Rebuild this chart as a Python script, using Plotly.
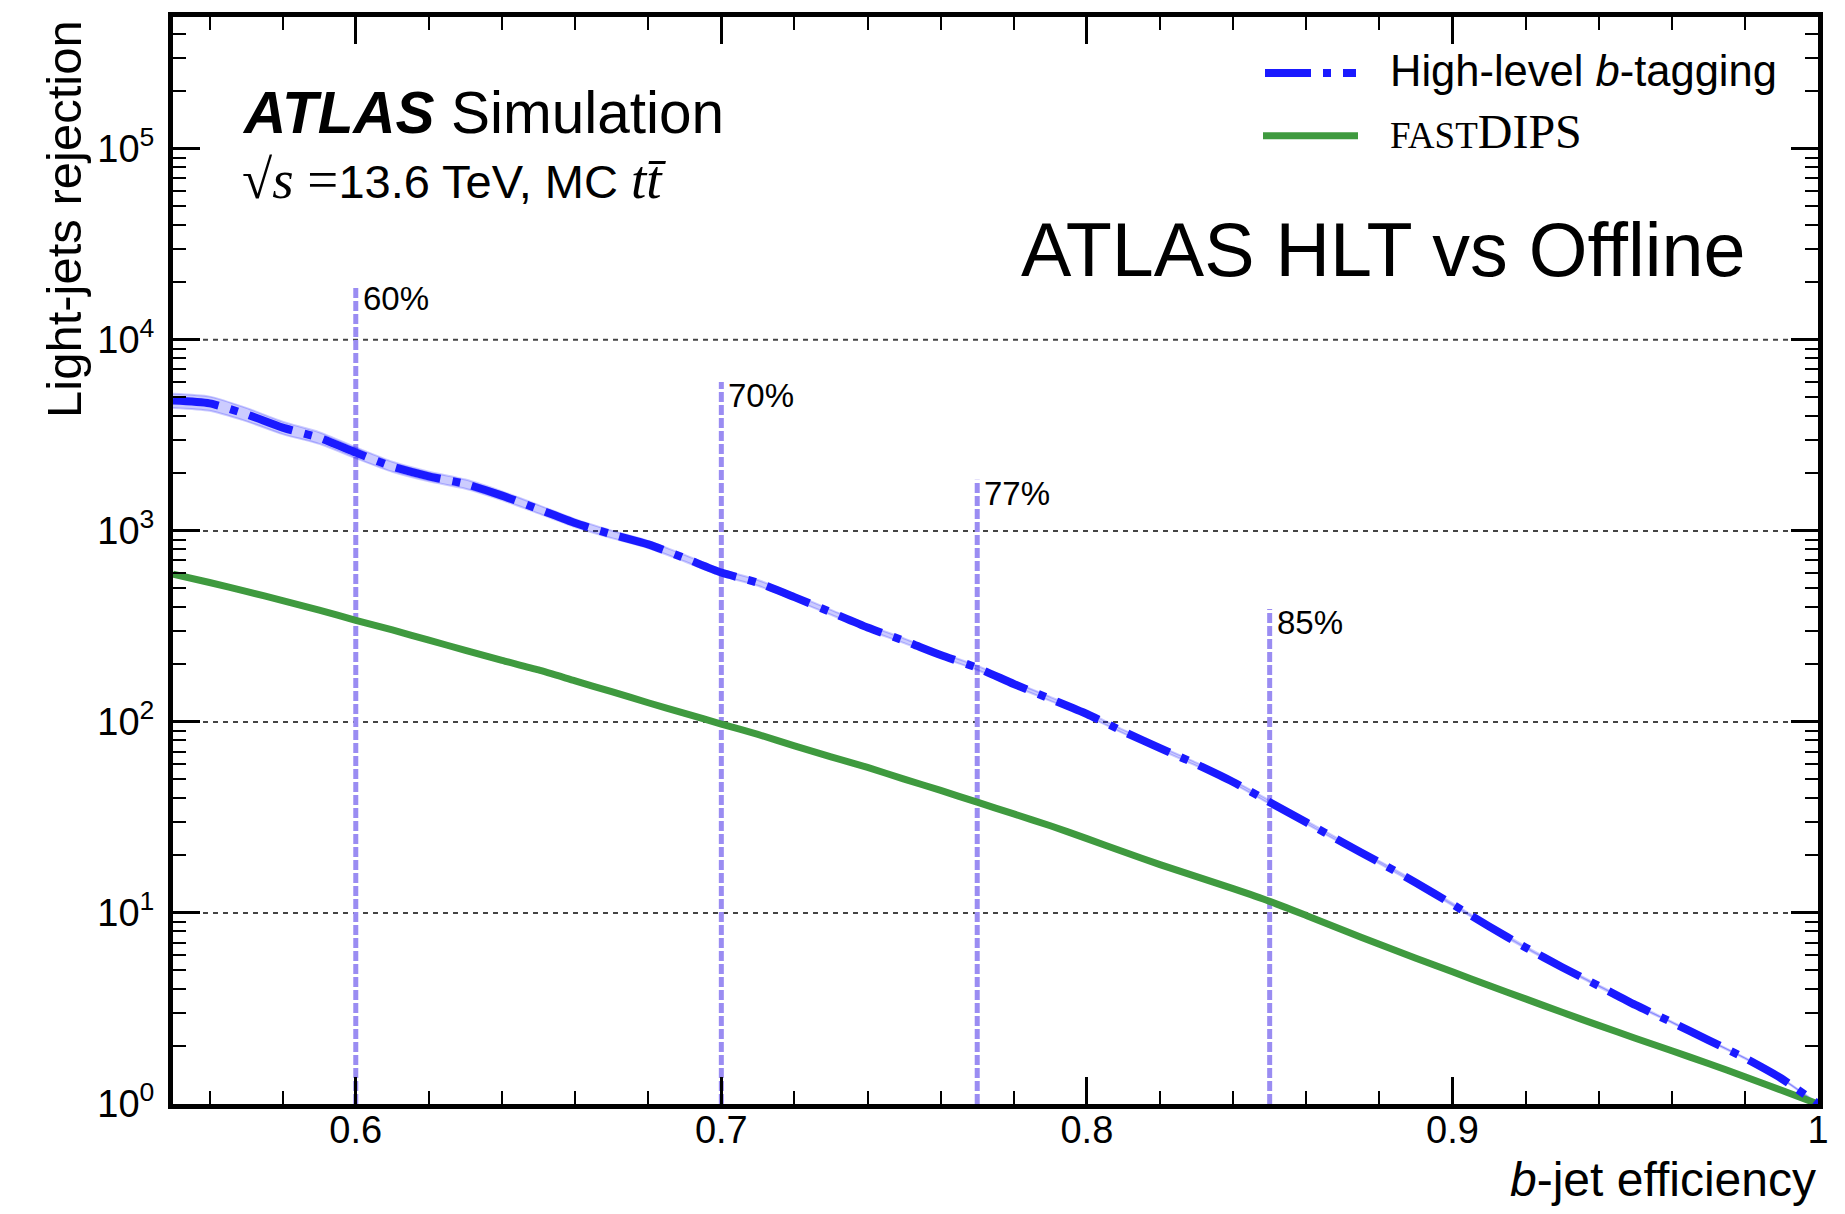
import math
import plotly.graph_objects as go

# ---------------------------------------------------------------- data
b_eff = [0.55, 0.56, 0.57, 0.58, 0.59, 0.60, 0.61, 0.62, 0.63, 0.64,
         0.65, 0.66, 0.67, 0.68, 0.69, 0.70, 0.71, 0.72, 0.73, 0.74,
         0.75, 0.76, 0.77, 0.78, 0.79, 0.80, 0.81, 0.82, 0.83, 0.84,
         0.85, 0.86, 0.87, 0.88, 0.89, 0.90, 0.91, 0.92, 0.93, 0.94,
         0.95, 0.96, 0.97, 0.98, 0.99, 1.00]

# offline high-level b-tagging light-jet rejection
hlt_rej = [4810, 4650, 4080, 3470, 3070, 2570, 2170, 1930, 1760, 1530,
           1300, 1100, 960, 850, 720, 605, 535, 450, 375, 312,
           266, 224, 192, 158, 132, 110, 89, 73, 60, 48.5,
           38, 29.8, 23.4, 18.4, 14.4, 11.1, 8.5, 6.6, 5.2, 4.15,
           3.3, 2.68, 2.16, 1.74, 1.36, 1.0]

# relative statistical uncertainty on the high-level tagger rejection
hlt_unc = [0.085, 0.085, 0.08, 0.075, 0.07, 0.065, 0.06, 0.058, 0.055, 0.052,
           0.05, 0.047, 0.045, 0.043, 0.04, 0.038, 0.035, 0.033, 0.03, 0.03,
           0.028, 0.027, 0.026, 0.025, 0.024, 0.023, 0.022, 0.021, 0.02, 0.02,
           0.019, 0.018, 0.017, 0.016, 0.015, 0.014, 0.013, 0.012, 0.011, 0.01,
           0.009, 0.008, 0.007, 0.006, 0.005, 0.005]

# trigger-level fastDIPS light-jet rejection
fastdips_rej = [593, 537, 482, 432, 385, 340, 303, 268, 237, 210,
                187, 164, 144, 126, 111, 97.5, 86, 75, 65.7, 57.8,
                50.2, 43.8, 38.0, 33.0, 28.6, 24.5, 20.9, 17.9, 15.5, 13.4,
                11.5, 9.7, 8.15, 6.85, 5.8, 4.92, 4.17, 3.55, 3.02, 2.58,
                2.21, 1.90, 1.63, 1.39, 1.18, 1.0]

# working points
wp_eff = [0.60, 0.70, 0.77, 0.85]
wp_top = [19300, 6020, 1850, 390]
wp_labels = ["60%", "70%", "77%", "85%"]

x_tickvals = [0.6, 0.7, 0.8, 0.9, 1.0]
x_ticktext = ["0.6", "0.7", "0.8", "0.9", "1"]
x_minor = [0.56, 0.58, 0.62, 0.64, 0.66, 0.68, 0.72, 0.74, 0.76, 0.78,
           0.82, 0.84, 0.86, 0.88, 0.92, 0.94, 0.96, 0.98]
y_tickvals = [1, 10, 100, 1000, 10000, 100000]
y_ticktext = ["10<sup>0</sup>", "10<sup>1</sup>", "10<sup>2</sup>",
              "10<sup>3</sup>", "10<sup>4</sup>", "10<sup>5</sup>"]
y_minor = [m * 10 ** d for d in range(6) for m in range(2, 10)]
grid_levels = [10, 100, 1000, 10000]

# ---------------------------------------------------------------- layout helpers
W, H = 1845, 1214
ML, MR, MT, MB = 173, 27, 15, 110
PW, PH = W - ML - MR, H - MT - MB


def px(xp):
    return (xp - ML) / PW


def py(yp):
    return (H - MB - yp) / PH


SANS = "Liberation Sans, Arial, Helvetica, sans-serif"
SERIF = "Liberation Serif, DejaVu Serif, serif"
BLUE = "#1a1aff"
BAND = "rgba(0,0,255,0.2)"
GREEN = "#3f9a3f"
WP_COLOR = "#9a8cf2"
HLT_DASH = "46px,12px,8px,12px"

fig = go.Figure()

# working-point markers
for e, top in zip(wp_eff, wp_top):
    fig.add_trace(go.Scatter(
        x=[e, e], y=[1, top], mode="lines",
        line=dict(color=WP_COLOR, width=5, dash="10px,3px"),
        showlegend=False, hoverinfo="skip"))

# uncertainty band of the high-level tagger
upper = [r * (1 + u) for r, u in zip(hlt_rej, hlt_unc)]
lower = [r * (1 - u) for r, u in zip(hlt_rej, hlt_unc)]
fig.add_trace(go.Scatter(x=b_eff, y=lower, mode="lines",
                         line=dict(color=BAND, width=2, shape="spline", smoothing=0.6),
                         showlegend=False, hoverinfo="skip"))
fig.add_trace(go.Scatter(x=b_eff, y=upper, mode="lines", fill="tonexty",
                         fillcolor=BAND,
                         line=dict(color=BAND, width=2, shape="spline", smoothing=0.6),
                         showlegend=False, hoverinfo="skip"))

fig.add_trace(go.Scatter(x=b_eff, y=fastdips_rej, mode="lines",
                         line=dict(color=GREEN, width=7, shape="spline", smoothing=0.6),
                         name="fastDIPS", showlegend=False))
fig.add_trace(go.Scatter(x=b_eff, y=hlt_rej, mode="lines",
                         line=dict(color=BLUE, width=8, dash=HLT_DASH,
                                   shape="spline", smoothing=0.6),
                         name="High-level b-tagging", showlegend=False))

# horizontal dashed reference lines at each decade
for lvl in grid_levels:
    fig.add_shape(type="line", xref="x domain", yref="y",
                  x0=0, x1=1, y0=lvl, y1=lvl, layer="below",
                  line=dict(color="#444444", width=2, dash="5px,5px"))

annotations = []

# working-point labels (log axis: annotation y given in log10 units)
for e, top, lab in zip(wp_eff, wp_top, wp_labels):
    annotations.append(dict(
        x=e, y=math.log10(top), xref="x", yref="y",
        text=lab, showarrow=False, xanchor="left", yanchor="top",
        xshift=5, yshift=7, font=dict(family=SANS, size=33, color="black")))

# ATLAS label
annotations.append(dict(
    x=px(240), y=py(111), xref="paper", yref="paper", xanchor="left",
    yanchor="middle", showarrow=False,
    text="<b><i>ATLAS</i></b> Simulation",
    font=dict(family=SANS, size=58.5, color="black")))
annotations.append(dict(
    x=px(240), y=py(178), xref="paper", yref="paper", xanchor="left",
    yanchor="middle", showarrow=False,
    text=("<span style=\"font-family:'Liberation Serif';font-size:55px\">√<i>s</i> =</span>"
          "13.6 TeV, MC "
          "<span style=\"font-family:'Liberation Serif';font-size:55px\"><i>tt̄</i></span>"),
    font=dict(family=SANS, size=47, color="black")))
annotations.append(dict(
    x=px(1748), y=py(248), xref="paper", yref="paper", xanchor="right",
    yanchor="middle", showarrow=False, text="ATLAS HLT vs Offline",
    font=dict(family=SANS, size=75.5, color="black")))

# legend
annotations.append(dict(
    x=px(1388), y=py(69), xref="paper", yref="paper", xanchor="left",
    yanchor="middle", showarrow=False, text="High-level <i>b</i>-tagging",
    font=dict(family=SANS, size=43.5, color="black")))
annotations.append(dict(
    x=px(1388), y=py(130), xref="paper", yref="paper", xanchor="left",
    yanchor="middle", showarrow=False,
    text="<span style=\"font-size:37px\">FAST</span>DIPS",
    font=dict(family=SERIF, size=48, color="black")))
fig.add_shape(type="line", xref="paper", yref="paper",
              x0=px(1265), x1=px(1356), y0=py(71), y1=py(71),
              line=dict(color=BLUE, width=8, dash=HLT_DASH))
fig.add_shape(type="line", xref="paper", yref="paper",
              x0=px(1263), x1=px(1358), y0=py(134), y1=py(134),
              line=dict(color=GREEN, width=7))

# axis titles
annotations.append(dict(
    x=1.0, y=py(1180), xref="paper", yref="paper", xanchor="right",
    yanchor="middle", showarrow=False, text="<i>b</i>-jet efficiency",
    font=dict(family=SANS, size=48, color="black")))
annotations.append(dict(
    x=px(64), y=py(16), xref="paper", yref="paper", xanchor="center",
    yanchor="top", showarrow=False, text="Light-jets rejection",
    textangle=-90, font=dict(family=SANS, size=49, color="black")))

fig.update_layout(
    width=W, height=H,
    margin=dict(l=ML, r=MR, t=MT, b=MB, pad=0),
    paper_bgcolor="white", plot_bgcolor="white",
    showlegend=False,
    annotations=annotations,
    font=dict(family=SANS, color="black"),
)

axis_common = dict(
    showline=True, linecolor="black", linewidth=5, mirror="allticks",
    ticks="inside", tickcolor="black", showgrid=False, zeroline=False,
    tickfont=dict(family=SANS, size=38, color="black"),
)

fig.update_xaxes(
    range=[0.55, 1.0], tickmode="array", tickvals=x_tickvals,
    ticktext=x_ticktext, ticklen=27, tickwidth=3,
    minor=dict(tickmode="array", tickvals=x_minor, ticks="inside",
               ticklen=13, tickwidth=2, tickcolor="black", showgrid=False),
    ticklabelstandoff=-12,
    **axis_common)
fig.update_yaxes(
    type="log", range=[0, 5.69], tickmode="array", tickvals=y_tickvals,
    ticktext=y_ticktext, ticklen=27, tickwidth=3,
    minor=dict(tickmode="array", tickvals=y_minor, ticks="inside",
               ticklen=13, tickwidth=2, tickcolor="black", showgrid=False),
    ticklabelstandoff=6,
    **axis_common)

fig.write_html("out.html")
